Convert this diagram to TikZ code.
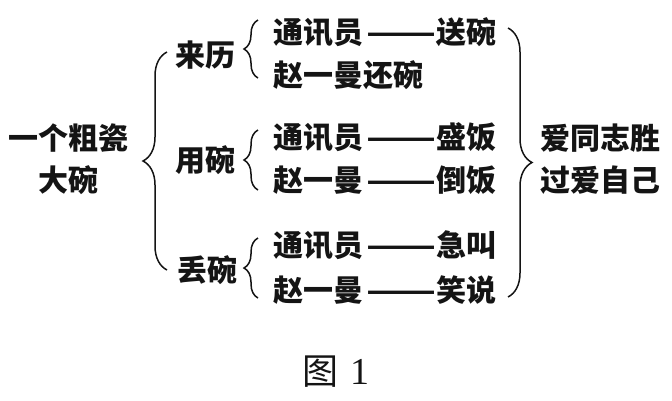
\documentclass[tikz,border=0pt]{standalone}
\usepackage{fontspec}
\usepackage{tikz}
\usetikzlibrary{decorations.pathreplacing, positioning}
\setmainfont{Liberation Serif}
\newfontfamily\cjk{Noto Sans CJK SC}
\definecolor{inkblack}{RGB}{20,20,20}
\newcommand{\longdash}{\hspace{3pt}\scalebox{1.36}[1]{——}}

\begin{document}
\begin{tikzpicture}[
    x=1pt, y=-1pt,
    txt/.style={font={\cjk\bfseries\fontsize{30}{42}\selectfont}, text=inkblack, inner sep=0pt},
    row/.style={txt, anchor=west},
    brc/.style={draw=inkblack, line width=1.5pt, decorate, decoration={brace, amplitude=#1}},
    brc/.default=14
  ]
  \useasboundingbox (0,0) rectangle (672,400);

  \node[txt, align=center] (bowl) at (69,159) {一个粗瓷\\大碗};

  \node[txt] (laili) at (205,55) {来历};
  \node[txt] (yongwan) at (205,160) {用碗};
  \node[txt] (diuwan) at (207,270) {丢碗};

  \node[row] (r1) at (273,32) {通讯员\longdash 送碗};
  \node[row] (r2) at (273,75) {赵一曼还碗};
  \node[row] (r3) at (273,137) {通讯员\longdash 盛饭};
  \node[row] (r4) at (273,180) {赵一曼\longdash 倒饭};
  \node[row] (r5) at (273,245) {通讯员\longdash 急叫};
  \node[row] (r6) at (273,290) {赵一曼\longdash 笑说};

  \node[txt, align=center] (love) at (600,159) {爱同志胜\\过爱自己};

  \node[inner sep=0pt, text=inkblack] (caption) at (336,372)
    {{\cjk\fontsize{36}{40}\selectfont 图}\hspace{12pt}{\fontsize{38}{40}\selectfont 1}};

  % braces
  \coordinate (bigtop) at (167,52);
  \coordinate (bigbot) at (167,270);
  \draw[brc=24] (bigbot) -- (bigtop);
  \coordinate (s1top) at (258,20);
  \coordinate (s1bot) at (258,78);
  \draw[brc] (s1bot) -- (s1top);
  \coordinate (s2top) at (258,130);
  \coordinate (s2bot) at (258,190);
  \draw[brc] (s2bot) -- (s2top);
  \coordinate (s3top) at (258,238);
  \coordinate (s3bot) at (258,298);
  \draw[brc] (s3bot) -- (s3top);
  \coordinate (rtop) at (508,28);
  \coordinate (rbot) at (508,297);
  \draw[brc=24] (rtop) -- (rbot);
\end{tikzpicture}
\end{document}
